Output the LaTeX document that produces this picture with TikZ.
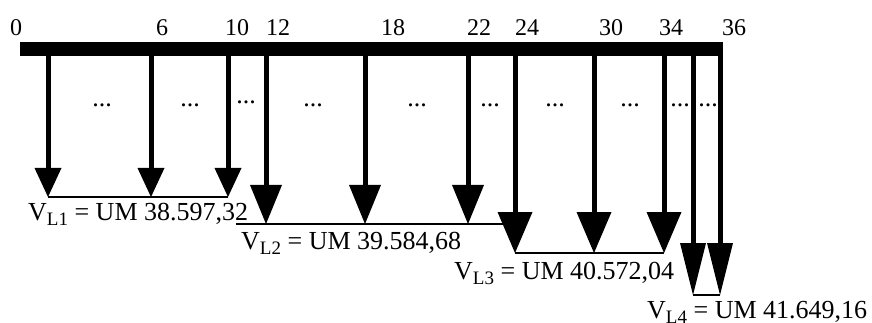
\documentclass[tikz,border=0pt]{standalone}
\usepackage{fontspec}
\setmainfont{Liberation Serif}
\usetikzlibrary{arrows.meta}
\newcommand{\lsub}[1]{\raisebox{-5pt}{\fontsize{19}{19}\selectfont #1}} % lowered index of V

\begin{document}
\begin{tikzpicture}[x=1pt, y=-1pt]
\tikzstyle{arrow1} = [line width = 5pt, -{Triangle[width=27pt, length=29pt, line width=0pt]}] % first group of payments
\tikzstyle{arrow2} = [line width = 5pt, -{Triangle[width=32pt, length=39pt, line width=0pt]}] % second group
\tikzstyle{arrow3} = [line width = 5pt, -{Triangle[width=35pt, length=41pt, line width=0pt]}] % third group
\tikzstyle{arrow4} = [line width = 5pt, -{Triangle[width=26pt, length=52pt, line width=0pt]}] % last group
\tikzstyle{link} = [line width = 1.8pt] % line joining the tips of one group
\tikzstyle{num} = [font = \fontsize{24}{24}\selectfont, anchor = base, inner sep = 0pt] % month above the bar
\tikzstyle{gap} = [font = \fontsize{26}{26}\selectfont, anchor = base, inner sep = 0pt] % dots between arrows
\tikzstyle{value} = [font = \fontsize{26}{26}\selectfont, anchor = base west, inner sep = 0pt] % sum of a group
\useasboundingbox (0,0) rectangle (872,323);
\node(bar)[fill, inner sep = 0pt, minimum width = 703pt, minimum height = 14pt] at (371.5,49){}; % time axis
% months
\node(t0)[num] at (16,36){0};
\node(t6)[num] at (162,36){6};
\node(t10)[num] at (237,36){10};
\node(t12)[num] at (278,36){12};
\node(t18)[num] at (393,36){18};
\node(t22)[num] at (479,36){22};
\node(t24)[num] at (527,36){24};
\node(t30)[num] at (611,36){30};
\node(t34)[num] at (671,36){34};
\node(t36)[num] at (734,36){36};
% arrow tips
\coordinate(tip1) at (48,197);
\coordinate(tip2) at (151,197);
\coordinate(tip3) at (228,197);
\coordinate(tip4) at (266,224);
\coordinate(tip5) at (365,224);
\coordinate(tip6) at (468,224);
\coordinate(tip7) at (515,253);
\coordinate(tip8) at (594,253);
\coordinate(tip9) at (664,253);
\coordinate(tip10) at (693,295);
\coordinate(tip11) at (720,295);
\coordinate(l2) at (236,224); % left end of second line
% lines under each group
\draw[link](tip1)--(tip3);
\draw[link](l2)--(tip7 |- tip4);
\draw[link](tip7)--(tip9);
\draw[link](tip10)--(tip11);
% payments
\draw[arrow1](tip1 |- bar.south)--(tip1);
\draw[arrow1](tip2 |- bar.south)--(tip2);
\draw[arrow1](tip3 |- bar.south)--(tip3);
\draw[arrow2](tip4 |- bar.south)--(tip4);
\draw[arrow2](tip5 |- bar.south)--(tip5);
\draw[arrow2](tip6 |- bar.south)--(tip6);
\draw[arrow3](tip7 |- bar.south)--(tip7);
\draw[arrow3](tip8 |- bar.south)--(tip8);
\draw[arrow3](tip9 |- bar.south)--(tip9);
\draw[arrow4](tip10 |- bar.south)--(tip10);
\draw[arrow4](tip11 |- bar.south)--(tip11);
% dots between the arrows
\node(g1)[gap] at (102,107){...};
\node(g2)[gap] at (190,107){...};
\node(g3)[gap] at (246,104){...};
\node(g4)[gap] at (313,107){...};
\node(g5)[gap] at (417,107){...};
\node(g6)[gap] at (490,107){...};
\node(g7)[gap] at (555,107){...};
\node(g8)[gap] at (630,107){...};
\node(g9)[gap] at (680,107){...};
\node(g10)[gap] at (708,107){...};
% values of the groups
\node(vl1)[value] at (28,220){V\lsub{L1} = UM 38.597,32};
\node(vl2)[value] at (241,249){V\lsub{L2} = UM 39.584,68};
\node(vl3)[value] at (454,279){V\lsub{L3} = UM 40.572,04};
\node(vl4)[value] at (647,318){V\lsub{L4} = UM 41.649,16};
\end{tikzpicture}
\end{document}
